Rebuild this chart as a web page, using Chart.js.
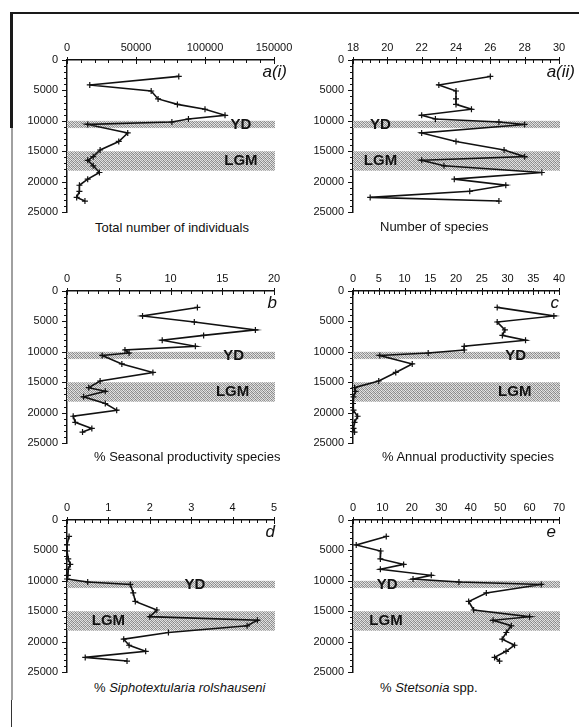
<!DOCTYPE html>
<html>
<head>
<meta charset="utf-8">
<script src="https://cdn.jsdelivr.net/npm/chart.js@4.4.1/dist/chart.umd.min.js"></script>
<style>
html, body { margin: 0; padding: 0; background: #fff; }
body { width: 579px; height: 727px; position: relative; overflow: hidden; font-family: "Liberation Sans", Arial, sans-serif; color: #111; }
.frame-top { position: absolute; left: 10px; top: 12px; width: 569px; height: 2px; background: #1a1a1a; }
.frame-left { position: absolute; left: 10px; top: 12px; width: 3px; height: 116px; background: #1a1a1a; }
.frame-left2 { position: absolute; left: 11px; top: 128px; width: 2px; height: 572px; background: #a0a0a0; }
.frame-left3 { position: absolute; left: 11px; top: 700px; width: 1px; height: 27px; background: #333; }
.panel { position: absolute; }
.panel canvas { display: block; }
.xt { position: absolute; font-size: 13px; line-height: 16px; white-space: nowrap; }
</style>
</head>
<body>
<div class="frame-top"></div>
<div class="frame-left"></div>
<div class="frame-left2"></div>
<div class="frame-left3"></div>

<div class="panel" style="left:17px;top:34px;width:285px;height:186px"><canvas id="pA1"></canvas></div>
<div class="panel" style="left:303px;top:34px;width:276px;height:186px"><canvas id="pA2"></canvas></div>
<div class="panel" style="left:17px;top:265px;width:285px;height:186px"><canvas id="pB"></canvas></div>
<div class="panel" style="left:303px;top:265px;width:276px;height:186px"><canvas id="pC"></canvas></div>
<div class="panel" style="left:17px;top:494px;width:285px;height:186px"><canvas id="pD"></canvas></div>
<div class="panel" style="left:303px;top:494px;width:276px;height:186px"><canvas id="pE"></canvas></div>

<div class="xt" style="left:95px;top:220px">Total number of individuals</div>
<div class="xt" style="left:380px;top:219px">Number of species</div>
<div class="xt" style="left:94px;top:449px">% Seasonal productivity species</div>
<div class="xt" style="left:382px;top:449px">% Annual productivity species</div>
<div class="xt" style="left:94px;top:680px">% <i>Siphotextularia rolshauseni</i></div>
<div class="xt" style="left:380px;top:680px">% <i>Stetsonia</i> spp.</div>

<script>
// sample depths (years BP) shared by all panels
const depths = [2700, 4100, 5100, 6400, 7300, 8100, 9100, 9700, 10200, 10600, 12000,
  13400, 14800, 15900, 16500, 17400, 18500, 19600, 20600, 21600, 22600, 23200];

const totalIndividuals = [81000, 16500, 61000, 66000, 80000, 100000, 114500, 88000, 76000, 15000, 44000,
  37500, 24000, 19000, 15000, 19000, 23500, 15000, 9000, 9000, 7000, 13000];
const numSpecies = [26.0, 23.0, 24.0, 24.0, 24.0, 24.9, 22.0, 22.8, 26.5, 28.0, 22.0,
  24.0, 26.8, 28.0, 22.0, 23.3, 29.0, 23.9, 26.9, 24.8, 19.0, 26.5];
const seasonalPct = [12.6, 7.3, 12.3, 18.2, 13.2, 9.2, 12.4, 5.6, 6.0, 3.4, 5.3,
  8.3, 3.2, 2.1, 3.7, 1.6, 3.7, 4.8, 0.6, 0.8, 2.4, 1.5];
const annualPct = [28.0, 39.0, 28.0, 29.5, 29.0, 33.5, 21.6, 21.6, 14.6, 5.2, 11.5,
  8.3, 5.0, 0.3, 0.5, 0.1, 0.0, 0.1, 0.9, 0.3, 0.1, 0.3];
const siphoPct = [0.05, 0.0, 0.0, 0.03, 0.08, 0.03, 0.02, 0.0, 0.5, 1.53, 1.6,
  1.65, 2.17, 2.0, 4.6, 4.35, 2.45, 1.37, 1.5, 1.9, 0.44, 1.45];
const stetsoniaPct = [11.3, 1.1, 9.4, 9.3, 17.2, 9.3, 26.6, 20.4, 36.0, 64.0, 45.3,
  39.3, 41.0, 60.0, 47.6, 53.8, 52.1, 50.7, 54.9, 52.0, 48.1, 49.8];

// shaded intervals
const ydBand = [10000, 11200];
const lgmBand = [15000, 18200];

const FONT = '"Liberation Sans", Arial, sans-serif';
const INK = '#111';

// fixed 4x4 grey dither for the shaded bands (scanned-print look)
const DITHER = [
  [0x80, 0xe4, 0x9a, 0xd4],
  [0xd8, 0x92, 0xea, 0xa2],
  [0xa6, 0xe2, 0x86, 0xdc],
  [0xe6, 0x9c, 0xd2, 0x8e]
];

function ditherFill(ctx) {
  const pc = document.createElement('canvas');
  pc.width = 4; pc.height = 4;
  const p = pc.getContext('2d');
  DITHER.forEach((row, r) => row.forEach((g, c) => {
    p.fillStyle = `rgb(${g},${g},${g})`;
    p.fillRect(c, r, 1, 1);
  }));
  return ctx.createPattern(pc, 'repeat');
}

const panelDeco = {
  id: 'panelDeco',
  beforeDatasetsDraw(chart, args, o) {
    const { ctx, chartArea: a, scales: { y } } = chart;
    ctx.save();
    ctx.fillStyle = ditherFill(ctx);
    [ydBand, lgmBand].forEach(([from, to]) => {
      const y0 = y.getPixelForValue(from), y1 = y.getPixelForValue(to);
      ctx.fillRect(a.left, y0, a.right - a.left + 1, y1 - y0);
    });
    ctx.restore();
  },
  afterDatasetsDraw(chart, args, o) {
    const { ctx, chartArea: a, scales: { x, y } } = chart;
    ctx.save();
    ctx.fillStyle = INK;
    ctx.font = 'bold 15px ' + FONT;
    ctx.textAlign = 'center';
    ctx.textBaseline = 'middle';
    ctx.fillText('YD', x.getPixelForValue(o.ydX), y.getPixelForValue((ydBand[0] + ydBand[1]) / 2));
    ctx.fillText('LGM', x.getPixelForValue(o.lgmX), y.getPixelForValue((lgmBand[0] + lgmBand[1]) / 2));
    ctx.font = 'italic 17px ' + FONT;
    ctx.textAlign = 'right';
    ctx.fillText(o.letter, a.right + o.letterDx, a.top + 12);
    ctx.restore();
  },
  afterDraw(chart, args, o) {
    const { ctx, chartArea: a, scales: { x, y } } = chart;
    ctx.save();
    ctx.strokeStyle = INK;
    ctx.lineWidth = 1;
    ctx.beginPath();
    const nx = Math.round((x.max - x.min) / o.xMinor);
    for (let i = 0; i <= nx; i++) {
      const v = x.min + i * o.xMinor;
      const px = Math.round(x.getPixelForValue(v)) + 0.5;
      const major = Math.abs(v / o.xMajor - Math.round(v / o.xMajor)) < 1e-6;
      ctx.moveTo(px, a.top - (major ? 3 : 0));
      ctx.lineTo(px, a.top + (major ? 4 : 3));
    }
    for (let v = 0; v <= 25000; v += 1000) {
      const py = Math.round(y.getPixelForValue(v)) + 0.5;
      const major = v % 5000 === 0;
      ctx.moveTo(a.left - (major ? 5 : 3), py);
      ctx.lineTo(a.left, py);
    }
    ctx.stroke();
    ctx.restore();
  }
};

function makePanel(id, values, p) {
  new Chart(document.getElementById(id), {
    type: 'scatter',
    data: {
      datasets: [{
        data: values.map((v, i) => ({ x: v, y: depths[i] })),
        showLine: true,
        borderColor: INK,
        borderWidth: 1.6,
        pointStyle: 'cross',
        pointRadius: 3,
        pointBorderWidth: 1.2,
        pointBorderColor: INK,
        clip: false
      }]
    },
    options: {
      responsive: true,
      maintainAspectRatio: false,
      animation: false,
      events: [],
      layout: { padding: { left: 0, top: 0, right: p.padRight, bottom: 8 } },
      plugins: {
        legend: { display: false },
        tooltip: { enabled: false },
        panelDeco: p
      },
      scales: {
        x: {
          type: 'linear', position: 'top', min: p.xMin, max: p.xMax,
          grid: { display: false, drawTicks: false },
          border: { display: true, color: INK, width: 1.5 },
          ticks: { stepSize: p.xMajor, padding: 5, color: INK, autoSkip: false, maxRotation: 0,
            font: { family: FONT, size: 11 }, callback: v => String(v) },
          afterFit: s => { s.height = 26; s.paddingLeft = 0; s.paddingRight = 0; }
        },
        y: {
          type: 'linear', reverse: true, min: 0, max: 25000,
          grid: { display: false, drawTicks: false },
          border: { display: true, color: INK, width: 1.5 },
          ticks: { stepSize: 5000, padding: 9, color: INK, autoSkip: false,
            font: { family: FONT, size: 11 }, callback: v => String(v) },
          afterFit: s => { s.width = 50; s.paddingTop = 0; s.paddingBottom = 0; }
        }
      }
    },
    plugins: [panelDeco]
  });
}

makePanel('pA1', totalIndividuals, { xMin: 0, xMax: 150000, xMajor: 50000, xMinor: 10000, padRight: 28,
  letter: 'a(i)', letterDx: 13, ydX: 126000, lgmX: 126000 });
makePanel('pA2', numSpecies, { xMin: 18, xMax: 30, xMajor: 2, xMinor: 0.5, padRight: 20,
  letter: 'a(ii)', letterDx: 16, ydX: 19.6, lgmX: 19.6 });
makePanel('pB', seasonalPct, { xMin: 0, xMax: 20, xMajor: 5, xMinor: 1, padRight: 28,
  letter: 'b', letterDx: 3, ydX: 16.1, lgmX: 16.0 });
makePanel('pC', annualPct, { xMin: 0, xMax: 40, xMajor: 5, xMinor: 1, padRight: 20,
  letter: 'c', letterDx: 0, ydX: 31.6, lgmX: 31.4 });
makePanel('pD', siphoPct, { xMin: 0, xMax: 5, xMajor: 1, xMinor: 0.2, padRight: 28,
  letter: 'd', letterDx: 1, ydX: 3.09, lgmX: 1.0 });
makePanel('pE', stetsoniaPct, { xMin: 0, xMax: 70, xMajor: 10, xMinor: 2, padRight: 20,
  letter: 'e', letterDx: -3, ydX: 11.6, lgmX: 11.2 });
</script>
</body>
</html>
